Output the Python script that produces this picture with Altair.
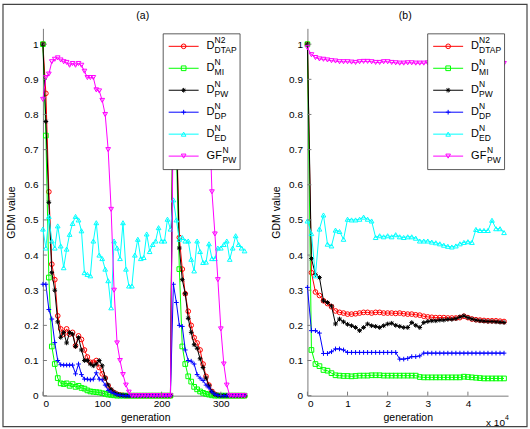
import altair as alt
import pandas as pd

FONT = "Liberation Sans"
AXIS_GRAY = "#7a7a7a"

# ---- panel (a): restarted run, sampled every 5 generations ----
GEN_A = list(range(0, 345, 5))

A_DTAP = [1.0, 0.86, 0.58, 0.374, 0.33, 0.227, 0.19, 0.175, 0.19, 0.175,
          0.18, 0.142, 0.17, 0.16, 0.13, 0.11, 0.095, 0.095, 0.10, 0.08,
          0.062, 0.05, 0.028, 0.015, 0.008, 0.004, 0.002, 0.001, 0.0, 0.0,
          0.0, 0.0, 0.0, 0.0, 0.0, 0.0, 0.0, 0.0, 0.0, 0.0,
          0.0, 0.0, 0.0, 0.0, 1.0, 0.78, 0.45, 0.36, 0.29, 0.24,
          0.2, 0.165, 0.15, 0.13, 0.09, 0.055, 0.03, 0.012, 0.004, 0.001,
          0.0, 0.0, 0.0, 0.0, 0.0, 0.0, 0.0, 0.0, 0.0]
A_MI = [1.0, 0.74, 0.336, 0.14, 0.09, 0.05, 0.035, 0.033, 0.035, 0.028,
        0.033, 0.025, 0.028, 0.022, 0.02, 0.015, 0.012, 0.011, 0.01, 0.009,
        0.007, 0.005, 0.003, 0.002, 0.001, 0.0, 0.0, 0.0, 0.0, 0.0,
        0.0, 0.0, 0.0, 0.0, 0.0, 0.0, 0.0, 0.0, 0.0, 0.0,
        0.0, 0.0, 0.0, 0.0, 1.0, 0.70, 0.36, 0.14, 0.09, 0.055,
        0.04, 0.025, 0.018, 0.012, 0.008, 0.005, 0.003, 0.001, 0.0, 0.0,
        0.0, 0.0, 0.0, 0.0, 0.0, 0.0, 0.0, 0.0, 0.0]
A_PW = [1.0, 0.78, 0.55, 0.35, 0.30, 0.21, 0.166, 0.18, 0.15, 0.18,
        0.175, 0.14, 0.165, 0.13, 0.10, 0.10, 0.09, 0.085, 0.09, 0.10,
        0.085, 0.05, 0.03, 0.018, 0.01, 0.005, 0.002, 0.001, 0.0, 0.0,
        0.0, 0.0, 0.0, 0.0, 0.0, 0.0, 0.0, 0.0, 0.0, 0.0,
        0.0, 0.0, 0.0, 0.0, 1.0, 0.75, 0.42, 0.33, 0.29, 0.22,
        0.18, 0.145, 0.135, 0.105, 0.08, 0.05, 0.028, 0.012, 0.004, 0.001,
        0.0, 0.0, 0.0, 0.0, 0.0, 0.0, 0.0, 0.0, 0.0]
A_DP = [0.317, 0.317, 0.245, 0.218, 0.151, 0.10, 0.088, 0.087, 0.087, 0.087,
        0.087, 0.062, 0.09, 0.06, 0.047, 0.047, 0.045, 0.047, 0.065, 0.047,
        0.045, 0.03, 0.015, 0.01, 0.006, 0.003, 0.001, 0.0, 0.0, 0.0,
        0.0, 0.0, 0.0, 0.0, 0.0, 0.0, 0.0, 0.0, 0.0, 0.0,
        0.0, 0.0, 0.0, 0.0, 0.317, 0.265, 0.2, 0.197, 0.13, 0.10,
        0.098, 0.09, 0.06, 0.05, 0.043, 0.03, 0.022, 0.01, 0.004, 0.001,
        0.0, 0.0, 0.0, 0.0, 0.0, 0.0, 0.0, 0.0, 0.0]
A_ED = [0.474, 0.42, 0.51, 0.44, 0.42, 0.483, 0.426, 0.364, 0.417, 0.459,
        0.49, 0.51, 0.50, 0.469, 0.35, 0.345, 0.341, 0.44, 0.492, 0.40,
        0.39, 0.36, 0.327, 0.25, 0.44, 0.42, 0.39, 0.492, 0.36, 0.312,
        0.312, 0.40, 0.445, 0.39, 0.393, 0.46, 0.41, 0.43, 0.44, 0.478,
        0.44, 0.44, 0.502, 0.474, 0.557, 0.50, 0.445, 0.45, 0.44, 0.44,
        0.388, 0.355, 0.44, 0.41, 0.379, 0.38, 0.432, 0.39, 0.39, 0.42,
        0.42, 0.43, 0.44, 0.388, 0.42, 0.455, 0.43, 0.42, 0.412]
A_GF = [0.843, 0.905, 0.915, 0.95, 0.957, 0.961, 0.955, 0.95, 0.948, 0.94,
        0.945, 0.94, 0.945, 0.94, 0.923, 0.905, 0.905, 0.905, 0.87, 0.867,
        0.84, 0.80, 0.70, 0.53, 0.30, 0.15, 0.10, 0.06, 0.03, 0.01,
        0.0, 0.0, 0.0, 0.0, 0.0, 0.0, 0.0, 0.0, 0.0, 0.0,
        0.0, 0.0, 0.0, 0.0, 0.85, 0.93, 0.955, 0.955, 0.95, 0.95,
        0.945, 0.94, 0.935, 0.92, 0.91, 0.89, 0.84, 0.58, 0.46, 0.33,
        0.19, 0.09, 0.03, 0.0, 0.0, 0.0, 0.0, 0.0, 0.0]

# ---- panel (b): long run, sampled every 1000 generations ----
GEN_B = list(range(0, 50000, 1000))

B_DTAP = [1.0, 0.35, 0.295, 0.285, 0.27, 0.262, 0.253, 0.241, 0.237, 0.235,
          0.232, 0.232, 0.233, 0.235, 0.237, 0.237, 0.235, 0.237, 0.237, 0.235,
          0.235, 0.235, 0.234, 0.235, 0.233, 0.232, 0.232, 0.23, 0.229, 0.226,
          0.224, 0.223, 0.222, 0.222, 0.222, 0.221, 0.221, 0.221, 0.222, 0.226,
          0.222, 0.218, 0.216, 0.215, 0.214, 0.213, 0.213, 0.213, 0.212, 0.211]
B_MI = [1.0, 0.13, 0.09, 0.084, 0.073, 0.071, 0.064, 0.058, 0.057, 0.056,
        0.056, 0.055, 0.056, 0.057, 0.057, 0.057, 0.058, 0.058, 0.058, 0.057,
        0.057, 0.057, 0.057, 0.057, 0.057, 0.057, 0.057, 0.057, 0.053, 0.052,
        0.052, 0.052, 0.052, 0.052, 0.052, 0.052, 0.052, 0.052, 0.052, 0.054,
        0.053, 0.052, 0.051, 0.05, 0.049, 0.049, 0.049, 0.049, 0.049, 0.049]
B_PW = [1.0, 0.39, 0.345, 0.336, 0.27, 0.265, 0.255, 0.204, 0.218, 0.21,
        0.203, 0.199, 0.194, 0.185, 0.194, 0.204, 0.199, 0.197, 0.194, 0.199,
        0.204, 0.206, 0.2, 0.197, 0.194, 0.194, 0.208, 0.2, 0.194, 0.208,
        0.211, 0.213, 0.213, 0.215, 0.215, 0.217, 0.217, 0.219, 0.224, 0.227,
        0.222, 0.218, 0.215, 0.213, 0.212, 0.211, 0.211, 0.21, 0.209, 0.208]
B_DP = [0.308, 0.185, 0.185, 0.178, 0.12, 0.12, 0.125, 0.133, 0.133, 0.13,
        0.123, 0.123, 0.123, 0.123, 0.123, 0.123, 0.123, 0.123, 0.123, 0.123,
        0.123, 0.123, 0.123, 0.104, 0.104, 0.106, 0.111, 0.111, 0.113, 0.121,
        0.121, 0.121, 0.121, 0.121, 0.121, 0.121, 0.121, 0.121, 0.121, 0.121,
        0.121, 0.121, 0.121, 0.121, 0.121, 0.121, 0.121, 0.121, 0.121, 0.121]
B_ED = [0.497, 0.461, 0.341, 0.474, 0.514, 0.431, 0.426, 0.471, 0.467, 0.445,
        0.502, 0.50, 0.50, 0.502, 0.508, 0.502, 0.497, 0.45, 0.455, 0.452,
        0.455, 0.452, 0.458, 0.452, 0.45, 0.452, 0.452, 0.448, 0.44, 0.44,
        0.44, 0.437, 0.435, 0.432, 0.428, 0.425, 0.423, 0.426, 0.432, 0.436,
        0.438, 0.436, 0.473, 0.47, 0.47, 0.47, 0.499, 0.475, 0.475, 0.464]
B_GF = [0.99, 0.97, 0.962, 0.958, 0.957, 0.955, 0.953, 0.952, 0.95, 0.95,
        0.95, 0.949, 0.948, 0.95, 0.951, 0.951, 0.95, 0.948, 0.948, 0.95,
        0.95, 0.948, 0.947, 0.946, 0.946, 0.947, 0.947, 0.946, 0.946, 0.946,
        0.947, 0.947, 0.946, 0.946, 0.946, 0.946, 0.945, 0.945, 0.946, 0.946,
        0.945, 0.945, 0.945, 0.945, 0.945, 0.945, 0.945, 0.945, 0.945, 0.945]

# ---- series styling and legend text ----
SERIES = ["DTAP", "MI", "PW", "DP", "ED", "GF"]
COLORS = ["#ff0000", "#00ff00", "#000000", "#0000ff", "#00ffff", "#ff00ff"]
STAR = "M-1,0L1,0M0,-1L0,1M-0.7,-0.7L0.7,0.7M-0.7,0.7L0.7,-0.7"
PLUS = "M-1,0L1,0M0,-1L0,1"
SHAPES = ["circle", "square", STAR, PLUS, "triangle-up", "triangle-down"]
LEG_MAIN = ["D", "D", "D", "D", "D", "GF"]
LEG_SUP = ["N2", "N", "N", "N", "N", "N"]
LEG_SUB = ["DTAP", "MI", "PW", "DP", "ED", "PW"]

Y_TICKS = [0, 0.1, 0.2, 0.3, 0.4, 0.5, 0.6, 0.7, 0.8, 0.9, 1]
XA_TICKS = [0, 100, 200, 300]
XB_TICKS = [0, 10000, 20000, 30000, 40000]

H = 368
Y_MAX = 1.045


def long_frame(gens, columns):
    rows = []
    for name, vals in zip(SERIES, columns):
        for g, v in zip(gens, vals):
            rows.append({"gen": g, "value": v, "series": name})
    return pd.DataFrame(rows)


legend_df = pd.DataFrame({
    "row": list(range(6)),
    "series": SERIES,
    "main": LEG_MAIN,
    "sup": LEG_SUP,
    "sub": LEG_SUB,
})


def panel(df, x_max, width, x_ticks, label_expr, panel_title, title_x, extras):
    xs = alt.Scale(domain=[0, x_max], nice=False, zero=False)
    ys = alt.Scale(domain=[0, Y_MAX], nice=False)
    x_axis = alt.Axis(values=x_ticks, title="generation", labelExpr=label_expr,
                      titleY=22, titleBaseline="middle", labelPadding=3)
    y_axis = alt.Axis(values=Y_TICKS, format="~g", title="GDM value",
                      titleX=-31, titleY=H / 2, titleBaseline="middle",
                      labelPadding=5)
    layers = list(extras)
    for i, (s, c, shp) in enumerate(zip(SERIES, COLORS, SHAPES)):
        base = alt.Chart(df).transform_filter(alt.datum.series == s)
        line = base.mark_line(color=c, strokeWidth=1).encode(
            x=alt.X("gen:Q", scale=xs, axis=x_axis if i == 0 else None),
            y=alt.Y("value:Q", scale=ys, axis=y_axis if i == 0 else None),
        )
        pts = base.mark_point(shape=shp, filled=False, size=22, color=c,
                              strokeWidth=1, opacity=1).encode(
            x=alt.X("gen:Q", scale=xs, axis=None),
            y=alt.Y("value:Q", scale=ys, axis=None),
        )
        layers += [line, pts]

    # inward tick marks
    yt = alt.Chart(pd.DataFrame({"t": Y_TICKS})).mark_rule(
        color=AXIS_GRAY, strokeWidth=1).encode(
        y=alt.Y("t:Q", scale=ys, axis=None), x=alt.value(0), x2=alt.value(4))
    xt = alt.Chart(pd.DataFrame({"t": x_ticks})).mark_rule(
        color=AXIS_GRAY, strokeWidth=1).encode(
        x=alt.X("t:Q", scale=xs, axis=None), y=alt.value(H), y2=alt.value(H - 4))
    layers += [yt, xt]

    # panel title
    ttl = alt.Chart(pd.DataFrame({"t": [panel_title]})).mark_text(
        fontSize=10.5, font=FONT, baseline="middle", align="center").encode(
        text="t:N", x=alt.value(title_x), y=alt.value(-12))
    layers.append(ttl)

    # legend box
    one = pd.DataFrame({"k": [0]})
    box = alt.Chart(one).mark_rect(fill="white", stroke="#333333",
                                   strokeWidth=0.8).encode(
        x=alt.value(120.5), x2=alt.value(197.5), y=alt.value(5.5), y2=alt.value(141.5))
    ly = alt.Y("row:Q", scale=alt.Scale(domain=[0, 5], range=[18, 128]), axis=None)
    col = alt.Color("series:N", scale=alt.Scale(domain=SERIES, range=COLORS), legend=None)
    shape = alt.Shape("series:N", scale=alt.Scale(domain=SERIES, range=SHAPES), legend=None)
    leg = alt.Chart(legend_df)
    lline = leg.mark_rule(strokeWidth=1).encode(
        x=alt.value(126), x2=alt.value(156), y=ly, color=col)
    lpt = leg.mark_point(filled=False, size=22, strokeWidth=1, opacity=1).encode(
        x=alt.value(141), y=ly, color=col, shape=shape)
    lmain = leg.mark_text(align="left", baseline="middle", fontSize=11, font=FONT).encode(
        x=alt.value(164), y=ly, text="main:N")
    d_rows = leg.transform_filter("datum.row < 5")
    gf_rows = leg.transform_filter("datum.row == 5")
    lsup_d = d_rows.mark_text(align="left", baseline="middle", fontSize=8.5, font=FONT, dy=-6).encode(
        x=alt.value(172), y=ly, text="sup:N")
    lsub_d = d_rows.mark_text(align="left", baseline="middle", fontSize=8.5, font=FONT, dy=4).encode(
        x=alt.value(172), y=ly, text="sub:N")
    lsup_g = gf_rows.mark_text(align="left", baseline="middle", fontSize=8.5, font=FONT, dy=-6).encode(
        x=alt.value(180), y=ly, text="sup:N")
    lsub_g = gf_rows.mark_text(align="left", baseline="middle", fontSize=8.5, font=FONT, dy=4).encode(
        x=alt.value(180), y=ly, text="sub:N")
    layers += [box, lline, lpt, lmain, lsup_d, lsub_d, lsup_g, lsub_g]

    return alt.layer(*layers).resolve_scale(x="independent", y="independent").properties(
        width=width, height=H)


df_a = long_frame(GEN_A, [A_DTAP, A_MI, A_PW, A_DP, A_ED, A_GF])
df_b = long_frame(GEN_B, [B_DTAP, B_MI, B_PW, B_DP, B_ED, B_GF])

one_row = pd.DataFrame({"k": [0]})
# figure frame around both panels
frame = alt.Chart(one_row).mark_rect(fillOpacity=0, stroke="#444444", strokeWidth=1.2).encode(
    x=alt.value(-40), x2=alt.value(485), y=alt.value(-24), y2=alt.value(399))

# exponent note for the (b) generation axis
exp_base = alt.Chart(pd.DataFrame({"t": ["x 10"]})).mark_text(
    align="left", baseline="middle", fontSize=10, font=FONT).encode(
    text="t:N", x=alt.value(179), y=alt.value(395))
exp_pow = alt.Chart(pd.DataFrame({"t": ["4"]})).mark_text(
    align="left", baseline="middle", fontSize=7, font=FONT).encode(
    text="t:N", x=alt.value(198), y=alt.value(390))

panel_a = panel(df_a, 345, 205, XA_TICKS, "datum.label", "(a)", 100, [frame])
panel_b = panel(df_b, 50000, 201, XB_TICKS, "datum.value / 10000", "(b)", 98,
                [exp_base, exp_pow])

chart = alt.hconcat(panel_a, panel_b, spacing=60, bounds="flush").properties(
    padding={"left": 2, "top": 3, "right": 2, "bottom": 2}
).configure(font=FONT, background="white").configure_view(stroke=None).configure_axis(
    domainColor=AXIS_GRAY, domainWidth=1, ticks=False, grid=False,
    labelFont=FONT, labelFontSize=10, labelColor="#000000",
    titleFont=FONT, titleFontSize=10.5, titleFontWeight="normal", titleColor="#000000",
)

chart.save("out.html", embed_options={"renderer": "svg", "actions": False})
